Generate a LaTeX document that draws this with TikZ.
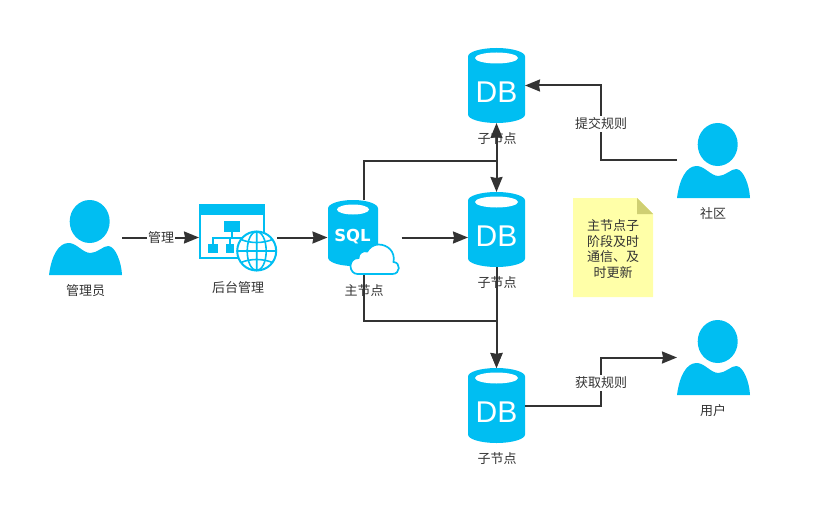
\documentclass[tikz,border=0pt]{standalone}
\usepackage{fontspec}
\setmainfont{Noto Sans CJK SC}
\newfontfamily\iconfont{Liberation Sans}
\newfontfamily\sqlfont{DejaVu Sans}
\usetikzlibrary{arrows.meta}
\definecolor{iconblue}{HTML}{00BEF2}
\definecolor{linkgray}{HTML}{333333}
\definecolor{notefill}{HTML}{FFFFA8}
\definecolor{notefold}{HTML}{CFCF73}
\newcommand{\dbpic}{%
  \begin{tikzpicture}[x=1pt,y=-1pt]
    \path[use as bounding box] (-28.5,-37.5) rectangle (28.5,37.5);
    \fill[iconblue] (-28.5,-29) arc[start angle=180,end angle=360,x radius=28.5,y radius=8.5]--(28.5,29) arc[start angle=0,end angle=180,x radius=28.5,y radius=8.5]--cycle;
    \fill[white] (0,-27.5) ellipse[x radius=21.5,y radius=5.5];
    \node[text=white,inner sep=0pt,font=\iconfont\fontsize{30}{30}\selectfont] at (0,6.5) {DB};
  \end{tikzpicture}%
}
\newcommand{\userpic}{%
  \begin{tikzpicture}[x=1pt,y=-1pt]
    \fill[iconblue] (4.2,-16) ellipse[x radius=20,y radius=21.5];
    \fill[iconblue] (-36.5,37.5) .. controls (-34,18) and (-27,6) .. (-17.5,5.5) .. controls (-9,5) and (-3,15.5) .. (5,15.5) .. controls (12,15.5) and (18,8) .. (23,8.5) .. controls (30,9) and (36,25) .. (36.5,37.5)--cycle;
  \end{tikzpicture}%
}
\newcommand{\sqlpic}{%
  \begin{tikzpicture}[x=1pt,y=-1pt]
    \path[use as bounding box] (-36,-37.5) rectangle (36,37.5);
    \fill[iconblue] (-35.5,-29) arc[start angle=180,end angle=360,x radius=25,y radius=8.5]--(14.5,20) arc[start angle=0,end angle=180,x radius=25,y radius=8.5]--cycle;
    \fill[white] (-10.5,-28) ellipse[x radius=16,y radius=5];
    \node[text=white,inner sep=0pt,font=\sqlfont\bfseries\fontsize{16.5}{16.5}\selectfont] at (-11,-1) {SQL};
    \filldraw[fill=white,draw=iconblue,line width=1.7pt] (-6,36.5)--(29,36.5) .. controls (37,36.5) and (37.5,25) .. (30,24.5) .. controls (32,14) and (24,7) .. (15,7) .. controls (10,7) and (6,10) .. (3.7,14) .. controls (0,13) and (-5,15) .. (-5,20.5) .. controls (-10,20.5) and (-13,24) .. (-13,28.5) .. controls (-13,33) and (-10,36.5) .. (-6,36.5)--cycle;
  \end{tikzpicture}%
}
\newcommand{\webpic}{%
  \begin{tikzpicture}[x=1pt,y=-1pt]
    \path[use as bounding box] (-39,-33.5) rectangle (39,33.5);
    \draw[iconblue,line width=2pt] (-38,-28) rectangle (25.5,20.5);
    \fill[iconblue] (-39,-33.5) rectangle (26.5,-22.5);
    \fill[iconblue] (-14,-16.5) rectangle (2,-5.5);
    \fill[iconblue] (-30,6.5) rectangle (-20,15.5);
    \fill[iconblue] (-12,6.5) rectangle (-4,15.5);
    \draw[iconblue,line width=2pt] (-6,-5.5)--(-6,0) (-25,6.5)--(-25,0)--(12,0) (-8,6.5)--(-8,0);
    \filldraw[fill=white,draw=iconblue,line width=2pt] (18.7,13.5) circle (19.5);
    \draw[iconblue,line width=1.6pt] (18.7,13.5) ellipse[x radius=9.5,y radius=19.5] (18.7,-6)--(18.7,33) (-0.8,13.5)--(38.2,13.5);
    \draw[iconblue,line width=1.6pt] (3,2) .. controls (12,6) and (25,6) .. (34.4,2) (3,25) .. controls (12,21) and (25,21) .. (34.4,25);
  \end{tikzpicture}%
}
\tikzset{
  iconnode/.style={inner sep=0pt,outer sep=0pt},
  caption/.style={inner sep=0pt,text=linkgray,font=\fontsize{13}{15}\selectfont},
  rulelabel/.style={caption,fill=white,inner xsep=1pt,inner ysep=2pt},
  link/.style={draw=linkgray,line width=2pt,-{Stealth[length=15pt,width=12pt,inset=1pt]}}
}
\begin{document}
\begin{tikzpicture}[x=1pt,y=-1pt]
\useasboundingbox (0,0) rectangle (813,505);
\foreach \name/\y in {db1/85.5,db2/229.5,db3/405.5}{\node[iconnode] (\name) at (496.5,\y) {\dbpic};}
\foreach \name/\x/\y in {admin/85.5/237.5,community/713.5/160.5,enduser/713.5/357.5}{\node[iconnode] (\name) at (\x,\y) {\userpic};}
\node[iconnode] (web) at (238,237.5) {\webpic};
\node[iconnode] (sql) at (363.5,237.5) {\sqlpic};
\foreach \name/\x/\y/\txt in {capadmin/85.5/291/管理员,capweb/238/288/后台管理,capsql/364/291/主节点,capdba/497/139/子节点,capdbb/497/283/子节点,capdbc/497/459/子节点,capcomm/713/214/社区,capuser/713/411/用户}{\node[caption] (\name) at (\x,\y) {\txt};}
\fill[notefill] (573,198)--(637,198)--(653,214)--(653,297)--(573,297)--cycle;
\fill[notefold] (637,198)--(653,214)--(637,214)--cycle;
\node[caption,align=center,font=\fontsize{13}{15.5}\selectfont] (note) at (613,249) {主节点子\\阶段及时\\通信、及\\时更新};
\coordinate (bustop) at (496.5,161);
\coordinate (busbot) at (496.5,321);
\node[rulelabel] (submit) at (601,124) {提交规则};
\node[rulelabel] (fetch) at (601,383) {获取规则};
\draw[link] (admin.east)--(web.west);
\draw[link] (web.east)--(sql.west);
\draw[link] ([xshift=2pt]sql.east)--(sql.east-|db2.west);
\draw[link] (sql.north)|-(bustop)--(db1.south);
\draw[link] (sql.north)|-(bustop)--(db2.north);
\draw[link] (sql.south)|-(busbot)--(db3.north);
\draw[link] (db2.south)--(db3.north);
\draw[link] (community.west)-|(submit.center)|-(db1.east);
\draw[link] (db3.east)-|(fetch.center)|-(enduser.west);
\node[rulelabel] at (submit) {提交规则};
\node[rulelabel] at (fetch) {获取规则};
\node[rulelabel] (manage) at (161,238) {管理};
\end{tikzpicture}
\end{document}
